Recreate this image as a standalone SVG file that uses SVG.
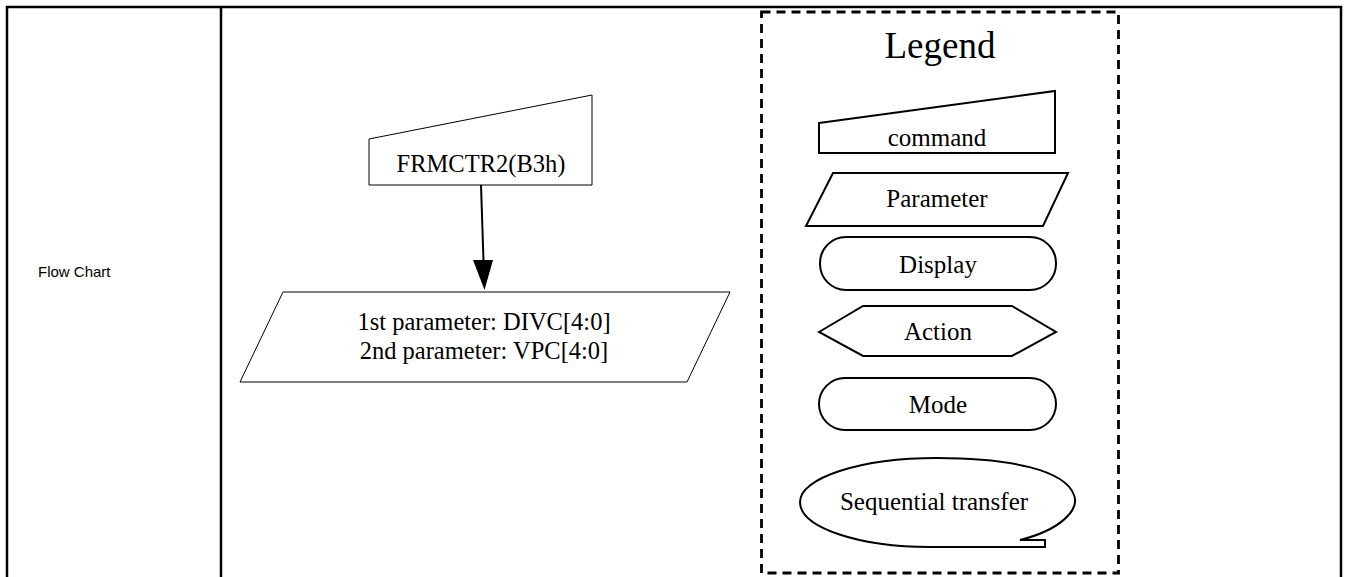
<svg xmlns="http://www.w3.org/2000/svg" width="1346" height="577" viewBox="0 0 1346 577">
<defs>
<style>
.tbl{stroke:#000;stroke-width:2.5;fill:none}
.shp{stroke:#000;stroke-width:1;fill:#fff}
.lg{stroke:#000;stroke-width:2;fill:#fff}
.t{font-family:"Liberation Serif","Times New Roman",serif;font-size:24.5px;fill:#000;text-anchor:middle}
.tl{font-family:"Liberation Serif","Times New Roman",serif;font-size:25px;fill:#000;text-anchor:middle}
.sans{font-family:"Liberation Sans",Arial,sans-serif;font-size:15px;fill:#000}
</style>
</defs>
<rect width="1346" height="577" fill="#fff"/>
<g id="table">
<path class="tbl" d="M7,577 V7 H1341 V577 M221,7 V577"/>
<text class="sans" x="38" y="277">Flow Chart</text>
</g>
<g id="connectors">
<line x1="481" y1="185" x2="483.5" y2="261" stroke="#000" stroke-width="2"/>
<path d="M473,260 L493,260 L484.5,290 Z" fill="#000"/>
</g>
<g id="node-frmctr2">
<path class="shp" d="M369,139 L592,95 L592,185 L369,185 Z"/>
<text class="t" x="481" y="172">FRMCTR2(B3h)</text>
</g>
<g id="node-params">
<path class="shp" d="M283,292 L730,292 L687,382 L240,382 Z"/>
<text class="t" x="484" y="330">1st parameter: DIVC[4:0]</text>
<text class="t" x="484" y="359">2nd parameter: VPC[4:0]</text>
</g>
<g id="legend">
<rect x="761.5" y="12" width="357" height="561" fill="none" stroke="#000" stroke-width="2.8" stroke-dasharray="9,6"/>
<text x="940" y="58" font-family="'Liberation Serif','Times New Roman',serif" font-size="37" text-anchor="middle">Legend</text>
<g id="legend-command">
<path class="lg" d="M819,123 L1055,91 L1055,153 L819,153 Z"/>
<text class="tl" x="937" y="146">command</text>
</g>
<g id="legend-parameter">
<path class="lg" d="M833,173 L1068,173 L1043,226 L806,226 Z"/>
<text class="tl" x="937" y="207">Parameter</text>
</g>
<g id="legend-display">
<rect class="lg" x="820" y="237" width="236" height="53" rx="26" ry="26"/>
<text class="tl" x="938" y="273">Display</text>
</g>
<g id="legend-action">
<path class="lg" d="M819,332 L863,306 L1012,306 L1056,332 L1012,356 L863,356 Z"/>
<text class="tl" x="938" y="340">Action</text>
</g>
<g id="legend-mode">
<rect class="lg" x="819" y="378" width="237" height="52" rx="26" ry="26"/>
<text class="tl" x="938" y="413">Mode</text>
</g>
<g id="legend-sequential">
<path class="lg" d="M1020,540 C1060,530 1080,510 1074,495 C1065,470 1010,458 937,458 C860,458 800,478 800,502 C800,528 860,547 930,547 L1045,547 L1045,540 Z"/>
<text class="tl" x="934" y="510">Sequential transfer</text>
</g>
</g>
</svg>
